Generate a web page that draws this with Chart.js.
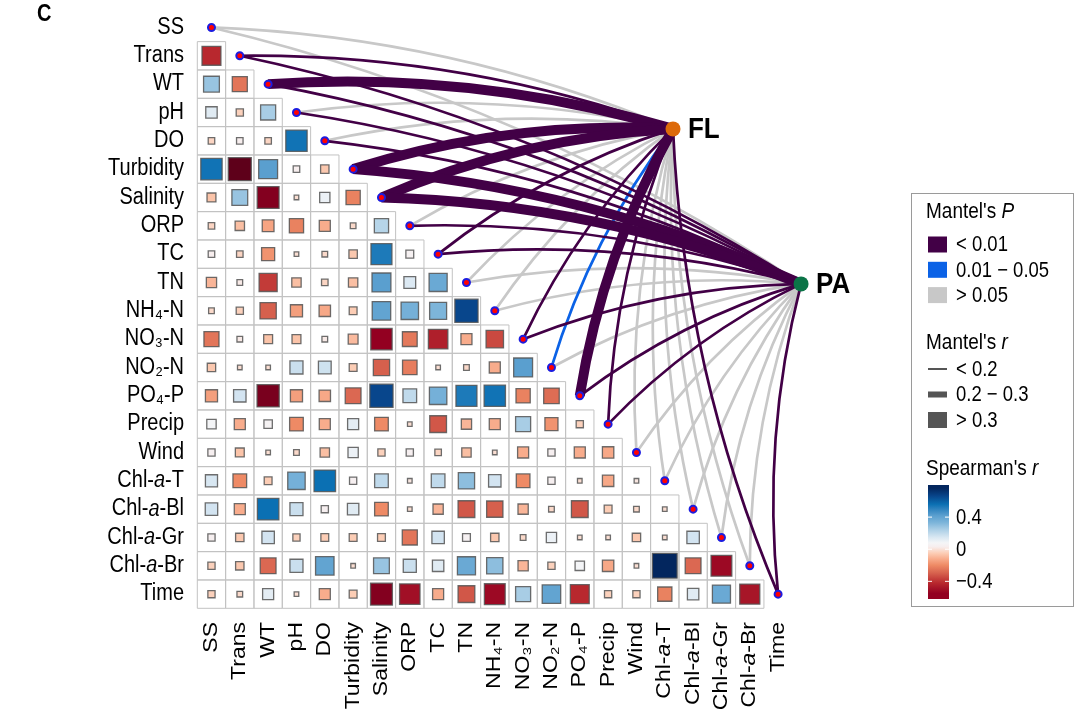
<!DOCTYPE html>
<html>
<head>
<meta charset="utf-8">
<script src="https://cdn.jsdelivr.net/npm/chart.js@4.4.0/dist/chart.umd.min.js"></script>
<style>
  html, body { margin: 0; padding: 0; background: #fff; }
  #wrap { width: 1080px; height: 718px; position: relative; }
</style>
</head>
<body>
<div id="wrap"><canvas id="mantel"></canvas></div>
<script>
// variables, top row -> bottom row, and left column -> right column
const vars = ['SS', 'Trans', 'WT', 'pH', 'DO', 'Turbidity', 'Salinity', 'ORP', 'TC', 'TN',
  'NH₄-N', 'NO₃-N', 'NO₂-N', 'PO₄-P', 'Precip', 'Wind', 'Chl-a-T', 'Chl-a-Bl', 'Chl-a-Gr', 'Chl-a-Br', 'Time'];

// Spearman's r, lower triangle (row i holds columns 0..i-1)
const spearman = [
  [],
  [-0.42],
  [0.28, -0.25],
  [0.13, -0.04, 0.25],
  [-0.03, 0.03, -0.03, 0.55],
  [0.55, -0.65, 0.42, 0.03, -0.06],
  [-0.07, 0.28, -0.58, -0.01, 0.10, -0.22],
  [-0.03, -0.08, -0.14, -0.22, -0.12, -0.02, 0.22],
  [0.03, -0.03, -0.18, -0.01, -0.02, -0.06, 0.53, 0.05],
  [-0.10, 0.02, -0.38, -0.08, -0.03, -0.08, 0.42, 0.14, 0.38],
  [-0.02, -0.04, -0.30, -0.15, -0.13, -0.05, 0.40, 0.35, 0.33, 0.66],
  [-0.25, 0.02, -0.07, -0.07, 0.02, -0.09, -0.55, -0.24, -0.45, -0.12, -0.35],
  [-0.06, -0.01, -0.01, 0.18, 0.17, -0.05, -0.30, -0.23, -0.01, -0.02, -0.12, 0.42],
  [-0.15, 0.16, -0.60, -0.15, -0.13, -0.28, 0.66, 0.20, 0.35, 0.53, 0.55, -0.22, -0.27],
  [0.08, -0.12, 0.06, -0.20, -0.12, 0.12, -0.20, -0.01, -0.32, -0.10, -0.12, 0.25, -0.18, -0.04],
  [0.04, -0.07, -0.01, -0.02, -0.08, 0.10, -0.04, 0.04, -0.03, -0.08, -0.01, -0.12, 0.04, -0.12, -0.13],
  [0.15, -0.20, -0.05, 0.35, 0.56, 0.04, 0.20, 0.01, 0.20, 0.30, 0.16, -0.20, 0.04, -0.01, -0.13, 0.01],
  [0.16, -0.12, 0.56, 0.18, 0.04, 0.13, -0.20, -0.01, -0.10, -0.32, -0.30, -0.10, -0.02, -0.32, -0.05, -0.02, -0.01],
  [0.04, -0.06, 0.16, -0.04, -0.05, -0.05, -0.05, -0.25, 0.16, 0.05, -0.06, -0.02, 0.10, -0.01, -0.01, -0.06, -0.01, 0.16],
  [-0.04, -0.06, -0.28, 0.18, 0.40, -0.01, 0.28, 0.18, 0.13, 0.38, 0.30, -0.10, -0.04, 0.08, -0.13, -0.01, 0.76, -0.28, -0.52],
  [-0.04, -0.02, 0.12, -0.01, -0.12, -0.05, -0.58, -0.50, -0.12, -0.32, -0.52, 0.25, 0.40, -0.42, -0.04, -0.04, -0.22, 0.13, 0.38, -0.48]
];

// Mantel test classes, one entry per variable (same order as vars)
const envs = ['FL', 'PA'];
const mantelP = {
  FL: ['>0.05', '<0.01', '<0.01', '>0.05', '>0.05', '<0.01', '<0.01', '>0.05', '<0.01', '>0.05', '>0.05',
       '<0.01', '0.01-0.05', '<0.01', '<0.01', '>0.05', '>0.05', '>0.05', '>0.05', '>0.05', '<0.01'],
  PA: ['>0.05', '<0.01', '<0.01', '<0.01', '<0.01', '<0.01', '<0.01', '<0.01', '<0.01', '>0.05', '>0.05',
       '<0.01', '>0.05', '<0.01', '<0.01', '>0.05', '>0.05', '>0.05', '>0.05', '>0.05', '<0.01']
};
const mantelR = {
  FL: ['<0.2', '<0.2', '>0.3', '<0.2', '<0.2', '>0.3', '>0.3', '<0.2', '<0.2', '<0.2', '<0.2',
       '<0.2', '<0.2', '>0.3', '<0.2', '<0.2', '<0.2', '<0.2', '<0.2', '<0.2', '<0.2'],
  PA: ['<0.2', '<0.2', '<0.2', '<0.2', '<0.2', '>0.3', '>0.3', '<0.2', '<0.2', '<0.2', '<0.2',
       '<0.2', '<0.2', '<0.2', '<0.2', '<0.2', '<0.2', '<0.2', '<0.2', '<0.2', '<0.2']
};

// ---- styles / layout ----
const pColors = { '<0.01': '#420046', '0.01-0.05': '#0b62e6', '>0.05': '#c8c8c8' };
const pLabels = { '<0.01': '< 0.01', '0.01-0.05': '0.01 \u2212 0.05', '>0.05': '> 0.05' };
const pDrawOrder = ['>0.05', '0.01-0.05', '<0.01'];
const rWidths = { '<0.2': 2.7, '0.2-0.3': 5, '>0.3': 10 };
const nodeX = { FL: 16.29, PA: 20.81 };   // node placement in grid units
const nodeY = { FL: 3.58, PA: 9.05 };
const nodeColors = { FL: '#dd6a0a', PA: '#0b7447' };
// colour scale for Spearman's r (value, colour)
const colorStops = [
  [-0.65, '#5e001a'], [-0.55, '#930021'], [-0.42, '#b8282e'], [-0.30, '#d6604d'],
  [-0.20, '#ee8a65'], [-0.12, '#f8ac8c'], [-0.05, '#fccdb5'], [0.03, '#f7eeee'],
  [0.08, '#f4f5f7'], [0.15, '#d8e7f2'], [0.25, '#a8cde5'], [0.33, '#7db5da'],
  [0.42, '#5a9fcf'], [0.50, '#2f83bf'], [0.56, '#0b70b3'], [0.66, '#08468c'], [0.76, '#03265e']
];
const rLow = -0.62, rHigh = 0.8;          // colour bar limits
const FONT = '"Liberation Sans", Arial, sans-serif';
const TEXT_SY = 1.15;                     // glyphs in the figure are drawn a bit tall

function hexRgb(h) {
  return [parseInt(h.slice(1, 3), 16), parseInt(h.slice(3, 5), 16), parseInt(h.slice(5, 7), 16)];
}
function fillFor(r) {
  if (r <= colorStops[0][0]) return colorStops[0][1];
  for (let k = 1; k < colorStops.length; k++) {
    if (r <= colorStops[k][0]) {
      const [v0, c0] = colorStops[k - 1], [v1, c1] = colorStops[k];
      const f = (r - v0) / (v1 - v0), a = hexRgb(c0), b = hexRgb(c1);
      return 'rgb(' + a.map((v, i) => Math.round(v + (b[i] - v) * f)).join(',') + ')';
    }
  }
  return colorStops[colorStops.length - 1][1];
}
function cellPx(chart) {
  const s = chart.scales.x;
  return Math.abs(s.getPixelForValue(1) - s.getPixelForValue(0));
}
function squareSide(chart, r) {
  return 2 + 0.92 * cellPx(chart) * Math.sqrt(Math.abs(r));
}

// ---- build point data ----
const cellData = [], squareData = [], diagData = [];
spearman.forEach((row, i) => {
  row.forEach((r, j) => {
    cellData.push({ x: j, y: i });
    squareData.push({ x: j, y: i, r: r });
  });
  diagData.push({ x: i, y: i });
});
const nodeData = envs.map(e => ({ x: nodeX[e], y: nodeY[e], env: e }));

// rich text: the "a" in Chl-a-* is italic
function segmentsOf(label) {
  const m = label.match(/^(Chl-)(a)(-.*)$/);
  if (m) return [{ t: m[1] }, { t: m[2], it: true }, { t: m[3] }];
  return [{ t: label }];
}
function drawRich(ctx, segs, x, y, font, align, sx, sy) {
  const fonts = segs.map(s => (s.it ? 'italic ' : '') + font);
  const widths = segs.map((s, k) => { ctx.font = fonts[k]; return ctx.measureText(s.t).width; });
  const total = widths.reduce((a, b) => a + b, 0);
  ctx.save();
  ctx.translate(x, y);
  ctx.scale(sx || 1, sy || 1);
  let cx = align === 'right' ? -total : 0;
  ctx.textAlign = 'left';
  segs.forEach((s, k) => {
    ctx.font = fonts[k];
    ctx.fillText(s.t, cx, 0);
    cx += widths[k];
  });
  ctx.restore();
}

const linkPlugin = {
  id: 'mantelLinks',
  beforeDatasetsDraw(chart) {
    const { ctx, scales: { x, y } } = chart;
    ctx.save();
    ctx.lineCap = 'butt';
    pDrawOrder.forEach(pc => {
      envs.forEach(env => {
        vars.forEach((v, i) => {
          if (mantelP[env][i] !== pc) return;
          const x0 = x.getPixelForValue(nodeX[env]), y0 = y.getPixelForValue(nodeY[env]);
          const x1 = x.getPixelForValue(i), y1 = y.getPixelForValue(i);
          const dx = x1 - x0, dy = y1 - y0, k = 0.09;
          ctx.beginPath();
          ctx.moveTo(x0, y0);
          ctx.quadraticCurveTo((x0 + x1) / 2 - k * dy, (y0 + y1) / 2 + k * dx, x1, y1);
          ctx.strokeStyle = pColors[pc];
          ctx.lineWidth = rWidths[mantelR[env][i]];
          ctx.stroke();
        });
      });
    });
    ctx.restore();
  }
};

const textPlugin = {
  id: 'mantelText',
  afterDraw(chart) {
    const { ctx, scales: { x, y } } = chart;
    ctx.save();
    ctx.fillStyle = '#000';
    ctx.textBaseline = 'middle';
    const axisFont = '20px ' + FONT;
    vars.forEach((v, i) => {
      drawRich(ctx, segmentsOf(v), 184, y.getPixelForValue(i), axisFont, 'right', 1, TEXT_SY);
      ctx.save();
      ctx.translate(x.getPixelForValue(i), 622);
      ctx.rotate(-Math.PI / 2);
      drawRich(ctx, segmentsOf(v), 0, 0, axisFont, 'right', TEXT_SY, 1);
      ctx.restore();
    });
    // panel letter
    drawRich(ctx, [{ t: 'C' }], 37, 15, 'bold 20px ' + FONT, 'left', 1, TEXT_SY);
    // node labels
    envs.forEach(e => {
      drawRich(ctx, [{ t: e }], x.getPixelForValue(nodeX[e]) + 15, y.getPixelForValue(nodeY[e]) + 1,
        'bold 26px ' + FONT, 'left', 1, 1.1);
    });

    // legend
    const lx = 928, tx = 956;
    const titleFont = '19px ' + FONT, itemFont = '18.5px ' + FONT;
    ctx.strokeStyle = '#9a9a9a';
    ctx.lineWidth = 1;
    ctx.strokeRect(911.5, 193.5, 162, 413);
    drawRich(ctx, [{ t: "Mantel's " }, { t: 'P', it: true }], 926, 212, titleFont, 'left', 1, TEXT_SY);
    ['<0.01', '0.01-0.05', '>0.05'].forEach((pc, k) => {
      const cy = 244.5 + k * 25.3;
      ctx.fillStyle = pColors[pc];
      ctx.fillRect(lx, cy - 8, 19, 16);
      ctx.fillStyle = '#000';
      drawRich(ctx, [{ t: pLabels[pc] }], tx, cy + 1, itemFont, 'left', 1, TEXT_SY);
    });
    drawRich(ctx, [{ t: "Mantel's " }, { t: 'r', it: true }], 926, 343, titleFont, 'left', 1, TEXT_SY);
    [['<0.2', '< 0.2', 2], ['0.2-0.3', '0.2 \u2212 0.3', 6], ['>0.3', '> 0.3', 16]].forEach((d, k) => {
      const cy = 369 + k * 25.5;
      ctx.fillStyle = '#555';
      ctx.fillRect(lx, cy - d[2] / 2, 19, d[2]);
      ctx.fillStyle = '#000';
      drawRich(ctx, [{ t: d[1] }], tx, cy + 1, itemFont, 'left', 1, TEXT_SY);
    });
    drawRich(ctx, [{ t: "Spearman's " }, { t: 'r', it: true }], 926, 469, titleFont, 'left', 1, TEXT_SY);
    // colour bar
    const barTop = 485, barH = 114, barW = 21;
    const grad = ctx.createLinearGradient(0, barTop, 0, barTop + barH);
    colorStops.forEach(([v, c]) => {
      const f = (rHigh - v) / (rHigh - rLow);
      if (f >= 0 && f <= 1) grad.addColorStop(f, c);
    });
    ctx.fillStyle = grad;
    ctx.fillRect(lx, barTop, barW, barH);
    [0.4, 0, -0.4].forEach(v => {
      const ty = barTop + (rHigh - v) / (rHigh - rLow) * barH;
      ctx.strokeStyle = '#fff';
      ctx.beginPath();
      ctx.moveTo(lx, ty); ctx.lineTo(lx + 4, ty);
      ctx.moveTo(lx + barW - 4, ty); ctx.lineTo(lx + barW, ty);
      ctx.stroke();
      ctx.fillStyle = '#000';
      const lab = v === 0 ? '0' : (v < 0 ? '\u2212' + Math.abs(v) : String(v));
      drawRich(ctx, [{ t: lab }], tx, ty + 1, itemFont, 'left', 1, TEXT_SY);
    });
    ctx.restore();
  }
};

new Chart(document.getElementById('mantel'), {
  type: 'scatter',
  data: {
    datasets: [
      {
        label: 'env', data: nodeData, order: 0, clip: false,
        pointStyle: 'circle', pointRadius: 7.5, borderWidth: 0,
        backgroundColor: ctx => nodeColors[ctx.raw ? ctx.raw.env : 'FL']
      },
      {
        label: 'diag', data: diagData, order: 1, clip: false,
        pointStyle: 'circle', pointRadius: 3.5,
        backgroundColor: '#ff0000', borderColor: '#1c1ce0', borderWidth: 2
      },
      {
        label: 'spearman', data: squareData, order: 2, clip: false,
        pointStyle: 'rect',
        pointRadius: ctx => ctx.raw ? squareSide(ctx.chart, ctx.raw.r) / Math.SQRT2 : 0,
        backgroundColor: ctx => ctx.raw ? fillFor(ctx.raw.r) : '#fff',
        borderColor: 'rgba(85,85,85,0.85)', borderWidth: 1.3
      },
      {
        label: 'cells', data: cellData, order: 3, clip: false,
        pointStyle: 'rect',
        pointRadius: ctx => cellPx(ctx.chart) / Math.SQRT2,
        backgroundColor: 'rgba(0,0,0,0)', borderColor: '#c2c2c2', borderWidth: 1
      }
    ]
  },
  options: {
    responsive: true,
    maintainAspectRatio: false,
    animation: false,
    events: [],
    layout: { padding: { left: 197.3, right: 259.4, top: 13.3, bottom: 109.7 } },
    scales: {
      x: { type: 'linear', min: -0.5, max: 21.5, display: false },
      y: { type: 'linear', min: -0.5, max: 20.5, reverse: true, display: false }
    },
    plugins: { legend: { display: false }, tooltip: { enabled: false } }
  },
  plugins: [linkPlugin, textPlugin]
});
</script>
</body>
</html>
